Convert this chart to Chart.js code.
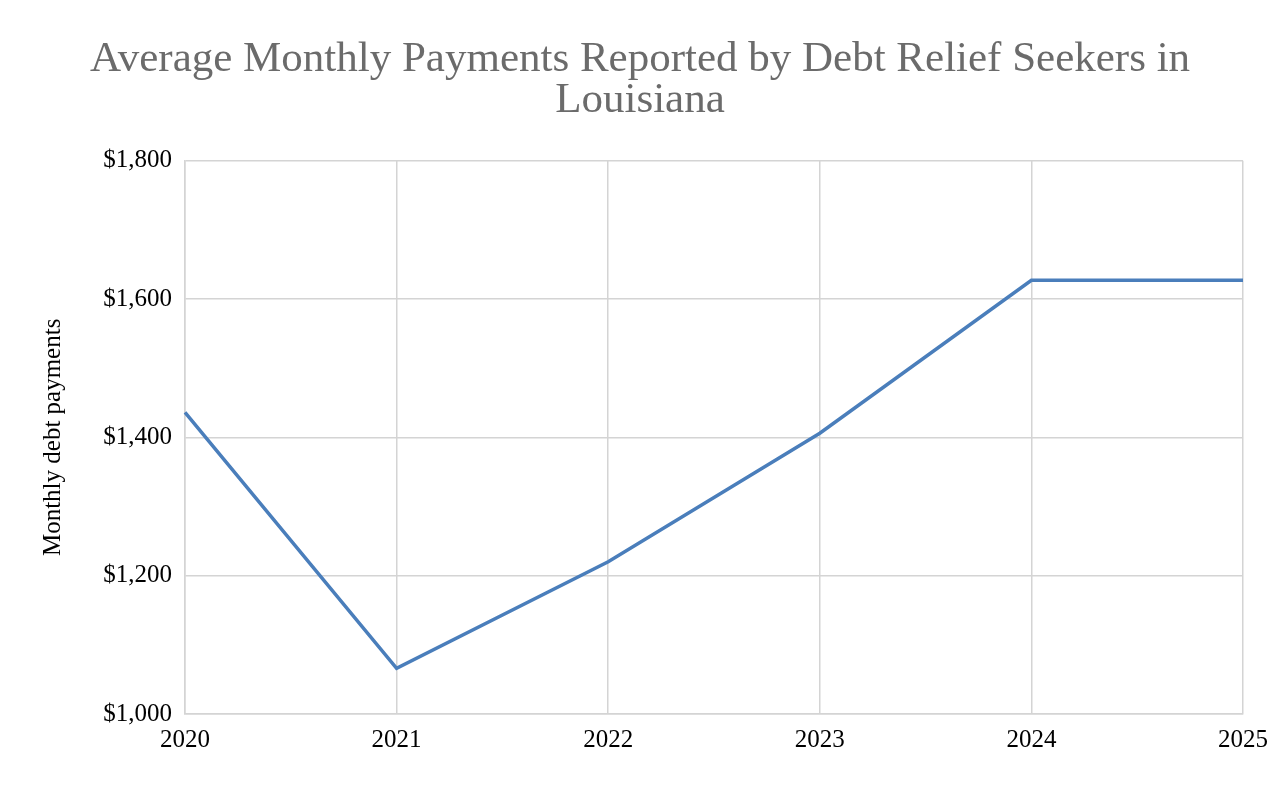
<!DOCTYPE html>
<html>
<head>
<meta charset="utf-8">
<script src="https://cdn.jsdelivr.net/npm/chart.js@4/dist/chart.umd.min.js"></script>
<style>
  html, body { margin: 0; padding: 0; background: #fff; }
  #wrap { width: 1280px; height: 788px; }
</style>
</head>
<body>
<div id="wrap"><canvas id="chart" width="1280" height="788"></canvas></div>
<script>
// data
const years = ['2020', '2021', '2022', '2023', '2024', '2025'];
const payments = [1436, 1066, 1220, 1406, 1627, 1627];
const yMin = 1000, yMax = 1800, yStep = 200;

const serif = "'Liberation Serif', 'Times New Roman', serif";
const gridColor = '#d4d4d4';

const ctx = document.getElementById('chart').getContext('2d');
new Chart(ctx, {
  type: 'line',
  data: {
    labels: years,
    datasets: [{
      data: payments,
      borderColor: '#4a7ebb',
      borderWidth: 3.5,
      pointRadius: 0,
      tension: 0,
      fill: false
    }]
  },
  options: {
    responsive: false,
    animation: false,
    layout: { padding: 0 },
    plugins: {
      legend: { display: false },
      tooltip: { enabled: false },
      title: {
        display: true,
        text: ['Average Monthly Payments Reported by Debt Relief Seekers in', 'Louisiana'],
        color: '#6b6b6b',
        font: { family: serif, size: 43, weight: 'normal', lineHeight: 0.95 },
        padding: { top: 39, bottom: 40 }
      }
    },
    scales: {
      x: {
        offset: false,
        grid: { color: gridColor, lineWidth: 1.5, drawTicks: false },
        border: { color: gridColor, width: 1.5 },
        ticks: { color: '#000', font: { family: serif, size: 25 }, padding: 11, maxRotation: 0 },
        afterFit: (s) => { s.height = 74; }
      },
      y: {
        min: yMin,
        max: yMax,
        grid: { color: gridColor, lineWidth: 1.5, drawTicks: false },
        border: { color: gridColor, width: 1.5 },
        ticks: {
          stepSize: yStep,
          color: '#000',
          font: { family: serif, size: 25 },
          padding: 13,
          callback: (v) => '$' + v.toLocaleString('en-US')
        },
        title: {
          display: true,
          text: 'Monthly debt payments',
          color: '#000',
          font: { family: serif, size: 25 },
          padding: { top: 38, bottom: 0 }
        },
        afterFit: (s) => { s.width = 185; }
      },
      // empty right margin so the title centres on the full page
      yr: {
        position: 'right',
        grid: { display: false },
        border: { display: false },
        ticks: { display: false },
        afterFit: (s) => { s.width = 37; }
      }
    }
  }
});
</script>
</body>
</html>
